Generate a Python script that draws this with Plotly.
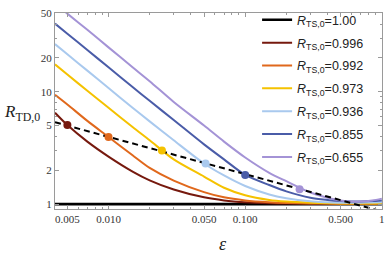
import plotly.graph_objects as go

# ---------------- data ----------------
eps = [0.00406, 0.005, 0.007, 0.01, 0.015, 0.02, 0.03, 0.05, 0.07, 0.1,
       0.15, 0.2, 0.3, 0.4, 0.5, 0.6, 0.7, 0.85, 1.0]

labels = ["1.00", "0.996", "0.992", "0.973", "0.936", "0.855", "0.655"]
colors = ["#000000", "#76190e", "#e0681c", "#f5c200", "#a9c9ee", "#4a5ca8", "#a493d6"]

r_100 = [1.0] * len(eps)
r_996 = [6.5, 5.05, 3.6, 2.65, 1.95, 1.63, 1.35, 1.15, 1.08, 1.04,
         1.02, 1.015, 1.01, 1.01, 1.01, 1.01, 1.01, 1.01, 1.01]
r_992 = [9.4, 7.7, 5.5, 3.96, 2.72, 2.1, 1.62, 1.28, 1.15, 1.08,
         1.04, 1.025, 1.015, 1.012, 1.01, 1.01, 1.01, 1.01, 1.01]
r_973 = [17.5, 14.2, 10.2, 7.2, 4.85, 3.7, 2.5, 1.76, 1.4, 1.2,
         1.09, 1.055, 1.03, 1.02, 1.015, 1.015, 1.015, 1.015, 1.02]
r_936 = [26.5, 21.5, 15.4, 10.8, 7.2, 5.45, 3.7, 2.3, 1.8, 1.45,
         1.22, 1.13, 1.06, 1.04, 1.03, 1.03, 1.03, 1.035, 1.04]
r_855 = [40.3, 32.8, 23.5, 16.5, 11.0, 8.3, 5.6, 3.4, 2.5, 1.82,
         1.48, 1.3, 1.14, 1.09, 1.065, 1.055, 1.055, 1.065, 1.08]
r_655 = [61, 49.5, 35.5, 24.8, 16.5, 12.4, 8.1, 5.0, 3.6, 2.6,
         1.9, 1.6, 1.27, 1.14, 1.08, 1.055, 1.055, 1.08, 1.12]
series = [r_100, r_996, r_992, r_973, r_936, r_855, r_655]

eps_dash = [0.00406, 1.0]
r_dash = [5.35, 0.862]

eps_dot = [0.005, 0.01, 0.0246, 0.0513, 0.1, 0.25]
r_dot = [5.05, 3.96, 3.0, 2.3, 1.82, 1.36]
dot_colors = colors[1:]

x_tickvals = [0.005, 0.01, 0.05, 0.1, 0.5, 1]
x_ticktext = ["0.005", "0.010", "0.050", "0.100", "0.500", "1"]
x_minor = [0.006, 0.007, 0.008, 0.009, 0.02, 0.03, 0.04, 0.06, 0.07, 0.08, 0.09,
           0.2, 0.3, 0.4, 0.6, 0.7, 0.8, 0.9]
y_tickvals = [1, 2, 5, 10, 20, 50]
y_ticktext = ["1", "2", "5", "10", "20", "50"]
y_minor = [3, 4, 6, 7, 8, 9, 30, 40]

# ---------------- figure ----------------
fig = go.Figure()
for i, (lab, col, ys) in enumerate(zip(labels, colors, series)):
    fig.add_trace(go.Scatter(
        x=eps, y=ys, mode="lines", name="<i>R</i><sub>TS,0</sub>=" + lab,
        legendgroup=str(i),
        line=dict(color=col, width=2.6 if i == 0 else 2, shape="spline", smoothing=0.8),
    ))

fig.add_trace(go.Scatter(
    x=eps_dash, y=r_dash, mode="lines", showlegend=False,
    line=dict(color="black", width=2, dash="6px,4px"),
))
fig.add_trace(go.Scatter(
    x=eps_dot, y=r_dot, mode="markers", showlegend=False,
    marker=dict(color=dot_colors, size=8, line=dict(width=0)),
))

axis_common = dict(
    type="log", showline=True, linecolor="#9a9a9a", linewidth=1, mirror="allticks",
    ticks="inside", ticklen=4, tickcolor="#9a9a9a", showgrid=False, zeroline=False,
    ticklabeloverflow="allow",
    tickfont=dict(family="Liberation Serif", size=11, color="#333333"),
)

fig.update_layout(
    width=390, height=254,
    margin=dict(l=55, r=5, t=5, b=45),
    paper_bgcolor="white", plot_bgcolor="white",
    xaxis=dict(range=[-2.3915, 0.001], tickmode="array", tickvals=x_tickvals, ticktext=x_ticktext,
               minor=dict(tickvals=x_minor, ticks="inside", ticklen=2, tickcolor="#9a9a9a"),
               **axis_common),
    yaxis=dict(range=[-0.043, 1.7], tickmode="array", tickvals=y_tickvals, ticktext=y_ticktext,
               minor=dict(tickvals=y_minor, ticks="inside", ticklen=2, tickcolor="#9a9a9a"),
               **axis_common),
    legend=dict(x=0.618, y=1.04, xanchor="left", yanchor="top", bgcolor="rgba(0,0,0,0)",
                font=dict(family="Liberation Sans", size=12.5, color="#222222"),
                tracegroupgap=3.6, itemwidth=30, maxheight=400),
    showlegend=True,
    annotations=[
        dict(text="<i>R</i><sub>TD,0</sub>", xref="paper", yref="paper", x=-0.1, y=0.49,
             xanchor="center", yanchor="middle",
             showarrow=False, font=dict(family="Liberation Serif", size=17, color="#222222")),
        dict(text="<i>ε</i>", xref="paper", yref="paper", x=0.515, y=-0.18,
             xanchor="center", yanchor="middle",
             showarrow=False, font=dict(family="Liberation Serif", size=18, color="#222222")),
    ],
)

fig.write_html("out.html", config={"displayModeBar": False},
               post_script="document.body.style.margin='0';")
